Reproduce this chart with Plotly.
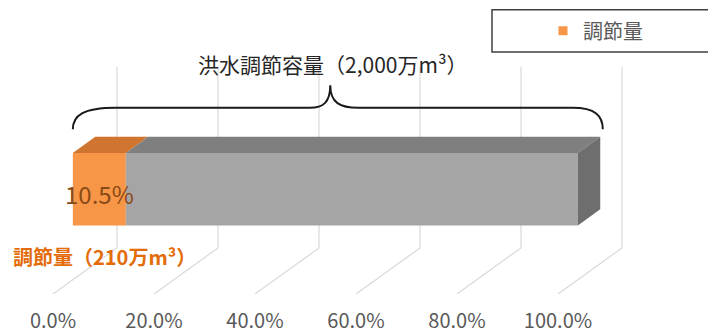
import plotly.graph_objects as go

# ---------------- data ----------------
categories = ["調節量", "残り容量"]
values = [10.5, 89.5]            # percent of flood-control capacity
total_capacity = 2000            # 万m3
adjust_volume = 210              # 万m3
tick_values = [0, 20, 40, 60, 80, 100]
tick_labels = ["0.0%", "20.0%", "40.0%", "60.0%", "80.0%", "100.0%"]

# ---------------- style / geometry ----------------
FONT = "Noto Sans CJK JP"
PX_PER_PCT = 5.05
DX = 64 / PX_PER_PCT     # oblique x shift (in %) for full depth
DY = 47                  # oblique y shift (y units) for full depth
WALL_H = 185
T0, T1 = 0.31, 0.66      # bar depth span
H0, H = 55.4, 74         # bar elevation and height
face_colors = {
    "調節量": ("#F79646", "#D0752F"),
    "残り容量": ("#A5A5A5", "#7F7F7F"),
}
SIDE_COLOR = "#6E6E6E"
GRID_COLOR = "#D9D9D9"


def proj(x, h, t):
    return x + DX * t, h + DY * t


def poly(pts):
    xs, ys = zip(*[proj(*p) for p in pts])
    return list(xs) + [xs[0]], list(ys) + [ys[0]]


fig = go.Figure()

# gridlines (floor + back wall)
for v in tick_values:
    pts = [proj(v, 0, 0), proj(v, 0, 1), proj(v, WALL_H, 1)]
    fig.add_trace(go.Scatter(x=[p[0] for p in pts], y=[p[1] for p in pts], mode="lines",
                             line=dict(color=GRID_COLOR, width=1.2), hoverinfo="skip",
                             showlegend=False))

# stacked 3D bar
start = 0
for cat, val in zip(categories, values):
    end = start + val
    front_c, top_c = face_colors[cat]
    xs, ys = poly([(start, H0, T0), (end, H0, T0), (end, H0 + H, T0), (start, H0 + H, T0)])
    fig.add_trace(go.Scatter(x=xs, y=ys, fill="toself", fillcolor=front_c, mode="lines",
                             line=dict(width=0, color=front_c), name=cat, showlegend=False,
                             hoverinfo="skip"))
    xs, ys = poly([(start, H0 + H, T0), (end, H0 + H, T0), (end, H0 + H, T1), (start, H0 + H, T1)])
    fig.add_trace(go.Scatter(x=xs, y=ys, fill="toself", fillcolor=top_c, mode="lines",
                             line=dict(width=0, color=top_c), showlegend=False, hoverinfo="skip"))
    start = end

xs, ys = poly([(start, H0, T0), (start, H0, T1), (start, H0 + H, T1), (start, H0 + H, T0)])
fig.add_trace(go.Scatter(x=xs, y=ys, fill="toself", fillcolor=SIDE_COLOR, mode="lines",
                         line=dict(width=0, color=SIDE_COLOR), showlegend=False, hoverinfo="skip"))

# legend entry
fig.add_trace(go.Scatter(x=[None], y=[None], mode="markers", name=categories[0],
                         marker=dict(symbol="square", size=9, color=face_colors[categories[0]][0])))

# brace over the whole capacity
xl, _ = proj(0, 0, T0)
xr, _ = proj(sum(values), 0, 0.70)
yb = 168
yh = yb + 22
yt = yh + 23
xc = (xl + xr) / 2 - 1.5
brace = (f"M {xl},{yb} C {xl},{yb+14} {xl+2},{yh} {xl+8.5},{yh} "
         f"L {xc-4},{yh} C {xc-1.5},{yh} {xc},{yh+5} {xc},{yt} "
         f"C {xc},{yh+5} {xc+2},{yh} {xc+5.5},{yh} "
         f"L {xr-6},{yh} C {xr-1.5},{yh} {xr},{yb+14} {xr},{yb}")
fig.add_shape(type="path", path=brace, xref="x", yref="y",
              line=dict(color="#1A1A1A", width=2))

# legend frame
fig.add_shape(type="rect", xref="paper", yref="paper", x0=492 / 708, x1=1.01,
              y0=1 - 53 / 300, y1=1 - 10 / 300, line=dict(color="#404040", width=1.5))

# labels
lx, ly = proj(values[0] / 2, H0 + H / 2, T0)
fig.add_annotation(x=lx, y=ly, text=f"{values[0]:.1f}%", showarrow=False, yshift=-4,
                   font=dict(family=FONT, size=24, color="#8A4A16"))
fig.add_annotation(x=-8.3, y=38, xanchor="left", showarrow=False,
                   text=f"<b>{categories[0]}（{adjust_volume}万m³）</b>",
                   font=dict(family=FONT, size=20, color="#E36C09"))
fig.add_annotation(x=xc + 0.5, y=235, showarrow=False,
                   text=f"洪水調節容量（{total_capacity:,}万m³）",
                   font=dict(family=FONT, size=21, color="#262626"))

fig.update_layout(
    width=708, height=334,
    margin=dict(l=0, r=0, t=0, b=34),
    paper_bgcolor="white", plot_bgcolor="white",
    showlegend=True,
    legend=dict(x=543 / 708, y=1 - 31.5 / 300, xanchor="left", yanchor="middle",
                bgcolor="rgba(0,0,0,0)", borderwidth=0,
                font=dict(family=FONT, size=20, color="#595959"),
                itemclick=False, itemdoubleclick=False),
    xaxis=dict(range=[-53 / PX_PER_PCT, (708 - 53) / PX_PER_PCT], tickvals=tick_values,
               ticktext=tick_labels, showgrid=False, zeroline=False, showline=False,
               ticks="", ticklabelstandoff=13, fixedrange=True,
               tickfont=dict(family=FONT, size=20, color="#595959")),
    yaxis=dict(range=[0, 300], visible=False, fixedrange=True),
    font=dict(family=FONT),
)

fig.write_html("out.html")
